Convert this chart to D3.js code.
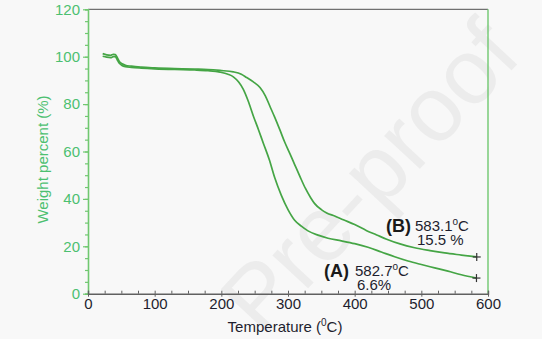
<!DOCTYPE html>
<html>
<head>
<meta charset="utf-8">
<script src="https://cdn.jsdelivr.net/npm/d3@7"></script>
<style>
  html, body { margin: 0; padding: 0; background: #f8f8f8; }
  svg { display: block; font-family: "Liberation Sans", Arial, sans-serif; }
</style>
</head>
<body>
<svg id="chart" width="542" height="339"></svg>
<script>
// TGA curves: temperature (°C) vs residual weight (%)
const tempA = [22, 28, 34, 38, 41, 44, 47, 51, 56, 65, 80, 100, 130, 160, 180, 198, 210, 218, 226, 233, 240, 248, 256, 263, 272, 280, 290, 300, 310, 320, 330, 345, 360, 380, 400, 420, 440, 460, 480, 500, 520, 540, 560, 582.7];
const weightA = [100.2, 99.8, 99.6, 100.0, 100.0, 98.6, 97.2, 96.3, 95.8, 95.5, 95.2, 94.9, 94.6, 94.4, 94.1, 93.5, 92.6, 91.5, 89.3, 86.2, 81.5, 75.0, 69.0, 63.5, 56.5, 49.0, 41.5, 35.5, 31.0, 28.5, 26.5, 24.7, 23.4, 22.3, 21.1, 19.6, 17.6, 15.6, 13.8, 12.3, 10.9, 9.5, 8.0, 6.6];

const tempB = [22, 28, 34, 38, 41, 44, 47, 51, 56, 65, 80, 100, 130, 160, 180, 198, 218, 230, 238, 248, 258, 266, 273, 280, 288, 295, 303, 310, 318, 326, 334, 340, 350, 358, 370, 383, 400, 418, 433, 448, 468, 490, 513, 535, 560, 583.1];
const weightB = [101.3, 100.8, 100.6, 101.0, 100.9, 99.6, 98.0, 97.0, 96.4, 96.0, 95.6, 95.3, 95.0, 94.8, 94.6, 94.2, 93.6, 92.6, 91.2, 89.4, 87.0, 83.5, 79.0, 74.5, 69.0, 64.0, 59.0, 54.5, 49.4, 44.5, 40.5, 38.0, 35.5, 34.1, 32.8, 31.2, 29.2, 26.6, 24.8, 23.0, 21.0, 19.4, 18.2, 17.2, 16.3, 15.5];

const xTicks = [0, 100, 200, 300, 400, 500, 600];
const yTicks = [0, 20, 40, 60, 80, 100, 120];

// End-point annotations
const endLabels = [
  { tag: "(A)", temp: "582.7", weight: "6.6%" },
  { tag: "(B)", temp: "583.1", weight: "15.5 %" }
];

const svg = d3.select("#chart");
const W = 542, H = 339;
const m = { left: 88, right: 54, top: 9.3, bottom: 45.3 };

const x = d3.scaleLinear().domain([0, 600]).range([m.left, W - m.right]);
const y = d3.scaleLinear().domain([0, 120]).range([H - m.bottom, m.top]);

svg.append("rect").attr("width", W).attr("height", H).attr("fill", "#f8f8f8");

// faint watermark behind the plot
svg.append("text")
  .attr("transform", "translate(262,338) rotate(-47)")
  .attr("font-size", 92)
  .attr("fill", "#ececec")
  .text("Pre-proof");

const lineGreen = "#45a545";
const axisGreen = "#70c870";
const labelGreen = "#4cc070";

// frame: top border gray, right border green
svg.append("line")
  .attr("x1", x(0)).attr("x2", x(600)).attr("y1", y(120)).attr("y2", y(120))
  .attr("stroke", "#707070").attr("stroke-width", 1.2);
svg.append("line")
  .attr("x1", x(600)).attr("x2", x(600)).attr("y1", y(120)).attr("y2", y(0))
  .attr("stroke", axisGreen).attr("stroke-width", 1.4);

// y axis (green)
const yAxisG = svg.append("g").attr("transform", `translate(${x(0)},0)`);
yAxisG.call(d3.axisLeft(y).tickValues(d3.range(0, 121, 5)).tickSize(3).tickFormat(""))
  .call(g => g.select(".domain").attr("stroke", axisGreen).attr("stroke-width", 1.6))
  .call(g => g.selectAll(".tick line").attr("stroke", axisGreen).attr("stroke-width", 1.2));
yAxisG.append("g")
  .call(d3.axisLeft(y).tickValues(yTicks).tickSize(5).tickPadding(3).tickFormat(d3.format("d")))
  .call(g => g.select(".domain").remove())
  .call(g => g.selectAll(".tick line").attr("stroke", axisGreen).attr("stroke-width", 1.2))
  .call(g => g.selectAll(".tick text").attr("fill", labelGreen).attr("font-size", 15)
    .attr("font-family", "Liberation Sans, Arial, sans-serif"));

// x axis (dark gray)
const xAxisG = svg.append("g").attr("transform", `translate(0,${y(0)})`);
xAxisG.call(d3.axisTop(x).tickValues(d3.range(0, 601, 25)).tickSize(3).tickFormat(""))
  .call(g => g.select(".domain").attr("stroke", "#606060").attr("stroke-width", 1.4))
  .call(g => g.selectAll(".tick line").attr("stroke", "#606060"));
xAxisG.append("g")
  .call(d3.axisBottom(x).tickValues(xTicks).tickSize(3).tickPadding(2).tickFormat(d3.format("d")))
  .call(g => g.select(".domain").remove())
  .call(g => g.selectAll(".tick line").attr("stroke", "#606060"))
  .call(g => g.selectAll(".tick text").attr("fill", "#1e1e2e").attr("font-size", 15)
    .attr("font-family", "Liberation Sans, Arial, sans-serif"));

// axis titles
const xTitle = svg.append("text")
  .attr("x", 285).attr("y", 332)
  .attr("text-anchor", "middle").attr("font-size", 15).attr("fill", "#1e1e2e");
xTitle.append("tspan").text("Temperature (");
xTitle.append("tspan").attr("dy", -6).attr("font-size", 10).text("0");
xTitle.append("tspan").attr("dy", 6).text("C)");

svg.append("text")
  .attr("transform", `translate(48,${(y(120) + y(0)) / 2 + 8}) rotate(-90)`)
  .attr("text-anchor", "middle").attr("font-size", 15).attr("fill", labelGreen)
  .text("Weight percent (%)");

// curves
const line = d3.line().x(d => x(d[0])).y(d => y(d[1])).curve(d3.curveMonotoneX);
const seriesA = tempA.map((t, i) => [t, weightA[i]]);
const seriesB = tempB.map((t, i) => [t, weightB[i]]);

[seriesA, seriesB].forEach(s => {
  svg.append("path").datum(s).attr("d", line)
    .attr("fill", "none").attr("stroke", lineGreen).attr("stroke-width", 1.7);
});

// end-point "+" markers
[seriesA, seriesB].forEach(s => {
  const p = s[s.length - 1];
  svg.append("g").attr("transform", `translate(${x(p[0])},${y(p[1])})`)
    .call(g => {
      g.append("line").attr("x1", -4).attr("x2", 4).attr("stroke", "#333").attr("stroke-width", 1.2);
      g.append("line").attr("y1", -4).attr("y2", 4).attr("stroke", "#333").attr("stroke-width", 1.2);
    });
});

// annotation text blocks
const annoPos = [
  { tagX: 324, tagY: 277, valX: 355, line1Y: 276, line2Y: 290 },
  { tagX: 386, tagY: 232, valX: 415, line1Y: 231, line2Y: 245 }
];
endLabels.forEach((d, i) => {
  const p = annoPos[i];
  svg.append("text").attr("x", p.tagX).attr("y", p.tagY)
    .attr("font-size", 18).attr("font-weight", "bold").attr("fill", "#1a1a1a").text(d.tag);
  const t = svg.append("text").attr("x", p.valX).attr("y", p.line1Y)
    .attr("font-size", 15).attr("fill", "#1e1e2e");
  t.append("tspan").text(d.temp);
  t.append("tspan").attr("dy", -6).attr("font-size", 10).text("o");
  t.append("tspan").attr("dy", 6).text("C");
  svg.append("text").attr("x", p.valX + 2).attr("y", p.line2Y)
    .attr("font-size", 15).attr("fill", "#1e1e2e").text(d.weight);
});
</script>
</body>
</html>
